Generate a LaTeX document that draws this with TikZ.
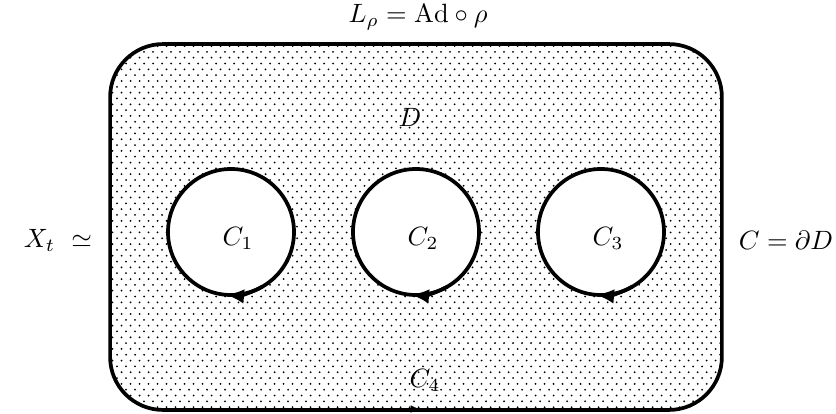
\documentclass[tikz,border=0pt]{standalone}
\usetikzlibrary{patterns,arrows.meta,calc}
\pgfdeclarepatternformonly{sparsedots}{\pgfqpoint{-1pt}{-1pt}}{\pgfqpoint{4.4pt}{4.4pt}}{\pgfqpoint{3.4pt}{4.4pt}}{%
  \pgfpathcircle{\pgfqpoint{0pt}{0pt}}{.38pt}%
  \pgfpathcircle{\pgfqpoint{1.7pt}{2.2pt}}{.38pt}%
  \pgfusepath{fill}}
\begin{document}
\begin{tikzpicture}[x=0.01327cm,y=0.01327cm,
  bd/.style={line width=1.4pt},
  orient/.style={bd,-{Latex[length=7pt,width=5.5pt]}}]
\useasboundingbox (0,0) rectangle (836,413);
% region D
\node[draw,bd,pattern=sparsedots,rounded corners=20pt,minimum width=8.121cm,minimum height=4.857cm,inner sep=0pt] (Dbox) at (416,186) {};
% holes
\foreach \n/\cx in {1/231,2/416,3/601}{
  \coordinate (H\n) at (\cx,181);
  \fill[white] (H\n) circle[radius=63];
  \draw[bd] (H\n) circle[radius=63];
  \draw[orient] ($(H\n)+(-60:63)$) arc[start angle=-60,end angle=-95,radius=63];
  \node (L\n) at ($(H\n)+(7,-6)$) {$C_{\n}$};
}
% outer orientation mark
\coordinate (b0) at (410,4);
\coordinate (b1) at (420,4);
\draw[line width=0.8pt,-{Latex[length=3.5pt,width=3pt]}] (b0) -- (b1);
% labels
\node (Lrho) at (418,396) {$L_\rho=\mathrm{Ad}\circ\rho$};
\node (Dl) at (410,296) {$D$};
\node (C4) at (425,33) {$C_4$};
\node (Xt) at (58,173) {$X_t\ \simeq$};
\node (CdD) at (786,173) {$C=\partial D$};
\end{tikzpicture}
\end{document}
